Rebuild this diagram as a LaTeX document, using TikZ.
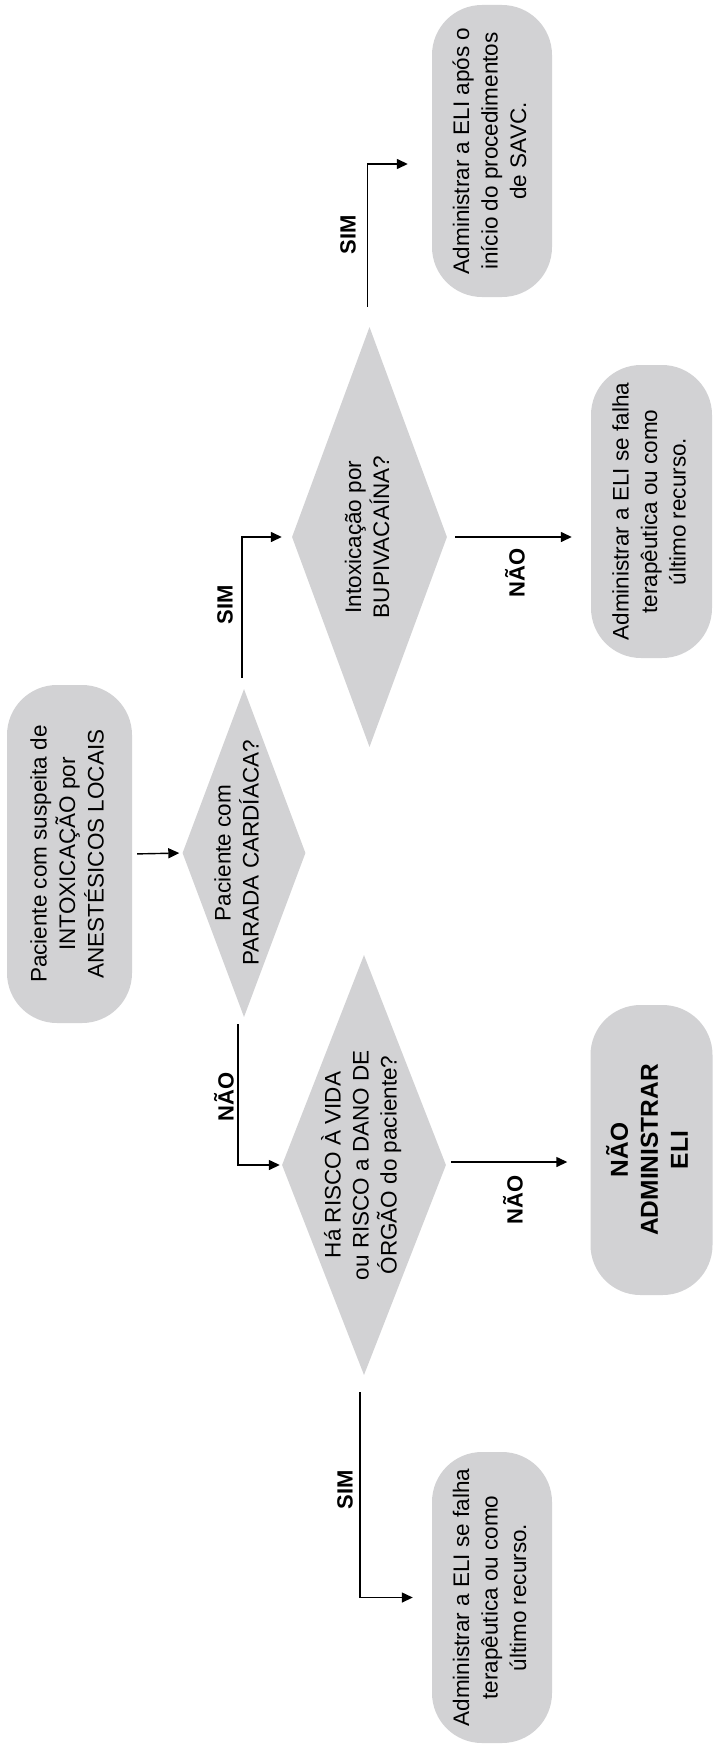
\documentclass[tikz,border=0pt]{standalone}
\usepackage{graphicx}
\usepackage{fontspec}
\setmainfont{Liberation Sans}
\usetikzlibrary{shapes.geometric,arrows.meta}
\definecolor{boxgray}{RGB}{210,210,212}
\newcommand\rt[1]{\rotatebox{90}{\begin{tabular}{@{}c@{}}#1\end{tabular}}}
\begin{document}
\begin{tikzpicture}[x=1pt,y=-1pt,
  pill/.style={rectangle, fill=boxgray, rounded corners=50pt, inner sep=0pt, font=\fontsize{22.5}{28.5}\selectfont},
  diam/.style={diamond, fill=boxgray, inner sep=0pt},
  txt/.style={inner sep=0pt, font=\fontsize{22.5}{28}\selectfont},
  arr/.style={line width=1.4pt, -{Triangle[length=11pt,width=10pt]}},
  lbl/.style={inner sep=0pt, font=\bfseries\fontsize{22}{26}\selectfont}]
\fill[white] (0,0) rectangle (716,1753);
\useasboundingbox (0,0) rectangle (716,1753);

% start box
\node[pill, minimum width=125pt, minimum height=338pt] (s) at (69.5,854)
  {\rt{Paciente com suspeita de\\INTOXICAÇÃO por\\ANESTÉSICOS LOCAIS}};

% decision 1
\node[diam, minimum width=123pt, minimum height=328pt] (d1) at (244,853) {};
\node[txt] (d1t) at ([xshift=-5pt]d1.center) {\rt{Paciente com\\PARADA CARDÍACA?}};

% decision 3 (bupivacaína)
\node[diam, minimum width=155pt, minimum height=420pt] (d3) at (369.5,537) {};
\node[txt] (d3t) at (d3.center) {\rt{Intoxicação por\\BUPIVACAÍNA?}};

% decision 2 (risco)
\node[diam, minimum width=164pt, minimum height=420pt] (d2) at (364,1165) {};
\node[txt] (d2t) at ([xshift=-1pt]d2.center) {\rt{Há RISCO À VIDA\\ou RISCO a DANO DE\\ÓRGÃO do paciente?}};

% result boxes
\node[pill, minimum width=120pt, minimum height=292pt] (b1) at (492,151)
  {\rt{Administrar a ELI após o\\início do procedimentos\\de SAVC.}};
\node[pill, minimum width=121pt, minimum height=293pt] (b2) at (651.5,511.5)
  {\rt{Administrar a ELI se falha\\terapêutica ou como\\último recurso.}};
\node[pill, minimum width=122pt, minimum height=290pt, font=\bfseries\fontsize{24.5}{30}\selectfont] (b3) at (651.5,1150)
  {\rt{NÃO\\ADMINISTRAR\\ELI}};
\node[pill, minimum width=120pt, minimum height=291pt] (b4) at (492,1597.5)
  {\rt{Administrar a ELI se falha\\terapêutica ou como\\último recurso.}};

% connectors
\draw[arr, shorten <=5pt, shorten >=3pt] (s.east) -- (d1.west);
\draw[arr, shorten <=11pt, shorten >=10pt] ([xshift=-2pt]d1.north) |- (d3.west);
\draw[arr, shorten <=20pt, shorten >=24pt] ([xshift=-2pt]d3.north) |- ([yshift=-13pt]b1.west);
\draw[arr, shorten <=8pt, shorten >=19pt] (d3.east) -- (d3.east -| b2.west);
\draw[arr, shorten <=7pt, shorten >=2pt] ([xshift=-6pt]d1.south) |- (d2.west);
\draw[arr, shorten <=5pt, shorten >=23pt] ([yshift=3pt]d2.east) -- ([yshift=3pt]d2.east -| b3.west);
\draw[arr, shorten <=17pt, shorten >=19pt] ([xshift=-4pt]d2.south) |- (b4.west);

% labels
\node[lbl] (l1) at (225,605) {\rotatebox{90}{SIM}};
\node[lbl] (l2) at (348,235) {\rotatebox{90}{SIM}};
\node[lbl] (l3) at (515,573) {\rotatebox{90}{NÃO}};
\node[lbl] (l4) at (224,1097) {\rotatebox{90}{NÃO}};
\node[lbl] (l5) at (513,1200) {\rotatebox{90}{NÃO}};
\node[lbl] (l6) at (345,1490) {\rotatebox{90}{SIM}};
\end{tikzpicture}
\end{document}
